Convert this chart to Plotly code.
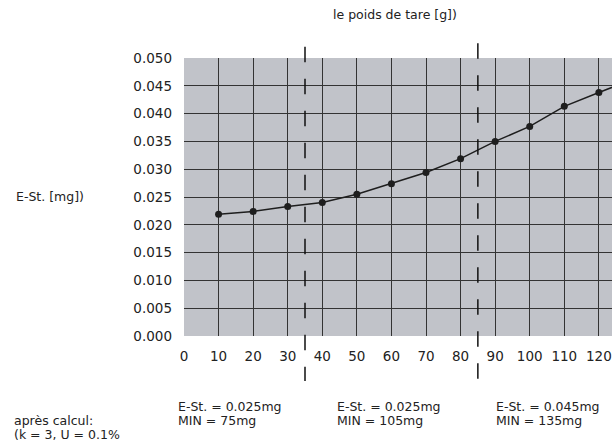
import plotly.graph_objects as go

# tare weight [g] and standard deviation [mg]
poids = [10, 20, 30, 40, 50, 60, 70, 80, 90, 100, 110, 120, 130]
e_st = [0.0219, 0.0224, 0.0233, 0.0240, 0.0255, 0.0274, 0.0294,
        0.0319, 0.0350, 0.0377, 0.0413, 0.0438, 0.0462]

x_ticks = [0, 10, 20, 30, 40, 50, 60, 70, 80, 90, 100, 110, 120]
y_ticks = [0.000, 0.005, 0.010, 0.015, 0.020, 0.025, 0.030, 0.035, 0.040, 0.045, 0.050]

limites = [35, 85]
groupes_est = ["E-St. = 0.025mg", "E-St. = 0.025mg", "E-St. = 0.045mg"]
groupes_min = ["MIN = 75mg", "MIN = 105mg", "MIN = 135mg"]

W, H = 612, 447
L, R, T, B = 184, 0, 58, 111
PW, PH = W - L - R, H - T - B
X_RANGE = [0, 123.8]
Y_RANGE = [0, 0.05]


def px_x(px):
    return (px - L) / PW


def px_y(py):
    return (H - B - py) / PH


FONT = "DejaVu Sans"
TXT = "#222222"
GRID = "#333333"

fig = go.Figure()
fig.add_trace(go.Scatter(
    x=poids, y=e_st, mode="lines+markers",
    line=dict(color="#1e1e1e", width=1.5),
    marker=dict(color="#1e1e1e", size=7),
    showlegend=False, hoverinfo="skip",
))
# empty trace so the grid-only overlay axes get drawn
fig.add_trace(go.Scatter(x=[], y=[], xaxis="x2", yaxis="y2", showlegend=False))

# dashed separators
tops = [46.7, 43.3]
for xv, top in zip(limites, tops):
    fig.add_shape(type="line", xref="x", yref="paper",
                  x0=xv, x1=xv, y0=px_y(top), y1=px_y(381),
                  line=dict(color="#111111", width=1.5, dash="15.5px,16.5px"))

annots = [
    dict(text="le poids de tare [g])", x=px_x(395), y=px_y(14), xanchor="center"),
    dict(text="E-St. [mg])", x=px_x(14), y=px_y(196), xanchor="left"),
    dict(text="après calcul:", x=px_x(12), y=px_y(420.7), xanchor="left"),
    dict(text="(k = 3, U = 0.1%", x=px_x(12), y=px_y(434.3), xanchor="left"),
]
for xpx, t1, t2 in zip([176, 335, 494], groupes_est, groupes_min):
    annots.append(dict(text=t1, x=px_x(xpx), y=px_y(406.7), xanchor="left"))
    annots.append(dict(text=t2, x=px_x(xpx), y=px_y(420.7), xanchor="left"))
for a in annots:
    fig.add_annotation(xref="paper", yref="paper", yanchor="middle", showarrow=False,
                       font=dict(family=FONT, size=12.5, color=TXT), **a)

# main axes carry the labels, overlay axes carry the grid (no lines on the 0 edges)
fig.update_layout(
    xaxis=dict(range=X_RANGE, tickvals=x_ticks, showgrid=False, zeroline=False,
               showline=False, ticks="", ticklabelstandoff=10,
               tickfont=dict(family=FONT, size=13.5, color=TXT)),
    yaxis=dict(range=Y_RANGE, tickvals=y_ticks, tickformat=".3f", showgrid=False,
               zeroline=False, showline=False, ticks="", ticklabelstandoff=11,
               tickfont=dict(family=FONT, size=13.5, color=TXT)),
    xaxis2=dict(overlaying="x", anchor="y2", range=X_RANGE, tickvals=x_ticks[1:],
                showgrid=True, gridcolor=GRID, gridwidth=1.3, zeroline=False,
                showticklabels=False, ticks=""),
    yaxis2=dict(overlaying="y", anchor="x2", range=Y_RANGE, tickvals=y_ticks[1:],
                showgrid=True, gridcolor=GRID, gridwidth=1.3, zeroline=False,
                showticklabels=False, ticks=""),
)
fig.update_layout(width=W, height=H, margin=dict(l=L, r=R, t=T, b=B),
                  plot_bgcolor="#c1c3c9", paper_bgcolor="white", hovermode=False)

fig.write_html("out.html", config={"displayModeBar": False},
               post_script="document.body.style.margin='0';")
